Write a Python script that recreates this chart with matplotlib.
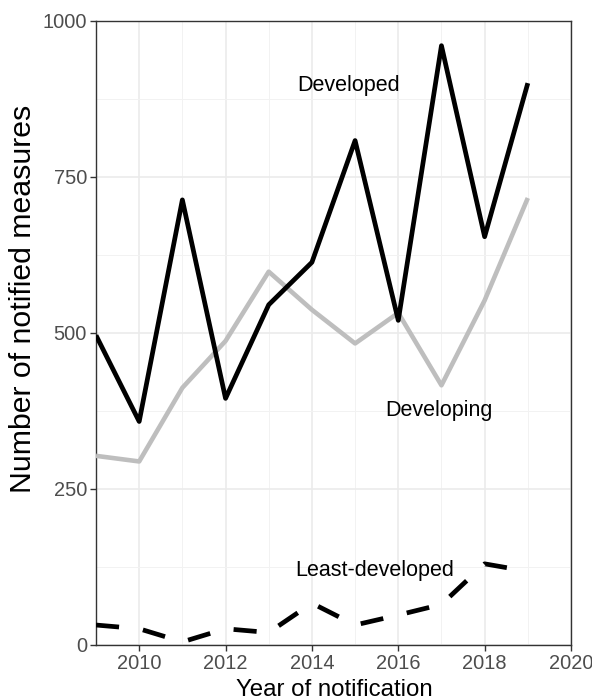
import matplotlib

matplotlib.use("Agg")
import matplotlib.pyplot as plt
from matplotlib.ticker import MultipleLocator

plt.rcParams["font.family"] = ["Liberation Sans", "DejaVu Sans"]

years = [2009, 2010, 2011, 2012, 2013, 2014, 2015, 2016, 2017, 2018, 2019]
developed = [496, 358, 713, 395, 545, 613, 808, 520, 960, 654, 900]
developing = [303, 294, 412, 487, 598, 537, 483, 532, 416, 552, 716]
least_developed = [32, 26, 5, 26, 20, 67, 32, 48, 65, 130, 118]

labels = {
    "Developed": (2014.85, 896),
    "Developing": (2016.95, 376),
    "Least-developed": (2015.45, 120),
}

fig = plt.figure(figsize=(5.92, 7.0), dpi=100)
fig.patch.set_facecolor("white")
ax = fig.add_axes([96 / 592, 55 / 700, 475 / 592, 624.3 / 700])

ax.plot(years, developing, color="#BEBEBE", linewidth=3.3, solid_capstyle="butt", zorder=3)
ax.plot(years, developed, color="black", linewidth=3.4, solid_capstyle="butt", zorder=4)
(ld_line,) = ax.plot(years, least_developed, color="black", linewidth=3.4, zorder=4)
ld_line.set_dashes((4.9, 5.1))
ld_line.set_dash_capstyle("butt")

for text, (x, y) in labels.items():
    ax.text(x, y, text, fontsize=15.5, ha="center", va="center", color="black", zorder=5)

ax.set_xlim(2009, 2020)
ax.set_ylim(0, 1000)
ax.xaxis.set_major_locator(MultipleLocator(2))
ax.xaxis.set_minor_locator(MultipleLocator(1))
ax.yaxis.set_major_locator(MultipleLocator(250))
ax.yaxis.set_minor_locator(MultipleLocator(125))

ax.grid(True, which="major", color="#EBEBEB", linewidth=1.2, zorder=0)
ax.grid(True, which="minor", color="#F2F2F2", linewidth=0.7, zorder=0)
ax.set_axisbelow(True)

for spine in ax.spines.values():
    spine.set_color("#333333")
    spine.set_linewidth(1.0)

ax.tick_params(which="major", length=4, width=1.0, color="#333333", labelcolor="#4D4D4D", labelsize=14.4, pad=2.5)
ax.tick_params(which="minor", length=0)

fig.text(334 / 592, 4 / 700, "Year of notification", fontsize=17.3, ha="center", va="baseline", color="black")
fig.text(23 / 592, 1 - 298.5 / 700, "Number of notified measures", fontsize=21.8, rotation=90,
         ha="center", va="center", color="black")

fig.savefig("out.png", dpi=100)
plt.close(fig)
